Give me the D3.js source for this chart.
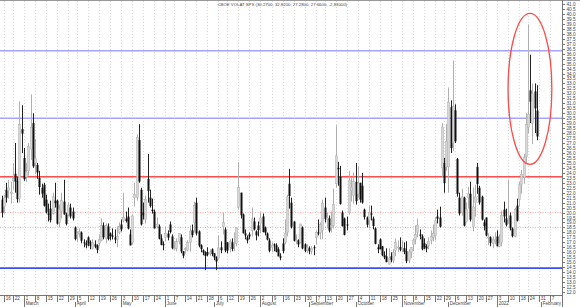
<!DOCTYPE html>
<html>
<head>
<meta charset="utf-8">
<script src="https://cdn.jsdelivr.net/npm/d3@7/dist/d3.min.js"></script>
<style>
  body { margin: 0; background: #fff; }
  svg text { font-family: "Liberation Sans", Arial, sans-serif; fill: #444; }
  .axis path, .axis line { stroke: #777; shape-rendering: crispEdges; }
</style>
</head>
<body>
<script>
// trading calendar (weekdays minus exchange holidays)
var firstDay = "2021-02-12", lastDay = "2022-02-11";
var holidays = ["2021-02-15", "2021-04-02", "2021-05-31", "2021-07-05", "2021-09-06",
                "2021-11-25", "2021-12-24", "2022-01-17"];

var title = "CBOE VOLAT SPX (30.2700, 32.8200, 27.2800, 27.6600, -2.83000)";
var monthNames = ["January", "February", "March", "April", "May", "June", "July",
                  "August", "September", "October", "November", "December"];

// daily OHLC, Feb 12 2021 .. Jan 28 2022
var openV = [
  21.3, 20.6, 22.3, 22.2, 21.9, 23.2, 23.9, 23.2, 21.4, 28.4,
  25.5, 23.6, 24.2, 26.4, 29.0, 25.0, 24.8, 23.5, 22.5, 22.8, 21.3, 19.9, 20.4, 19.9, 21.2, 21.2, 19.0, 20.1, 21.1, 19.8, 19.8, 20.5, 20.1,
  18.5, 17.8, 17.9, 18.0, 17.0, 16.9, 17.5, 17.0, 16.4, 16.8, 16.7, 16.9, 17.2, 18.7, 17.4, 18.6, 17.9, 17.7, 17.5, 17.3, 18.0,
  18.8, 19.2, 19.4, 19.6, 17.8, 17.0, 21.5, 21.5, 27.3, 22.3, 20.0, 19.3, 23.4, 21.5, 20.3, 20.1, 18.6, 18.6, 17.4, 16.8,
  17.5, 17.9, 18.8, 17.6, 16.4, 16.4, 17.1, 17.5, 16.1, 16.3, 16.2, 17.0, 18.2, 19.0, 21.0, 18.1, 16.7, 16.2, 16.0, 16.0, 15.9, 16.3,
  15.9, 15.5, 15.4, 16.5, 18.6, 18.3, 17.0, 16.5, 17.0, 17.0, 16.9, 20.5, 22.0, 19.8, 17.9, 17.5, 17.8, 18.2, 19.1, 18.1, 18.7,
  18.9, 19.6, 18.5, 17.9, 17.2, 16.5, 16.8, 16.7, 16.3, 15.6, 16.9, 17.0, 18.0, 22.9, 21.0, 19.1, 17.1, 17.2, 17.0, 18.5, 16.8, 16.2,
  16.4, 16.1, 16.5, 17.5, 18.0, 18.0, 18.2, 20.5, 19.3, 19.4, 18.5, 18.7, 22.9, 24.5, 23.6, 20.0, 19.4, 18.8, 20.0, 22.2, 21.7,
  23.1, 21.9, 23.0, 22.7, 20.3, 19.5, 19.3, 19.9, 19.4, 18.4, 16.5, 17.3, 16.6, 15.7, 15.6, 14.8, 15.6, 15.2, 16.2, 16.5, 16.5,
  16.4, 16.4, 16.1, 15.2, 16.0, 16.8, 17.3, 18.0, 17.8, 17.6, 16.9, 16.6, 16.7, 17.2, 17.5, 17.7, 19.6, 19.5, 24.5, 25.0, 24.6,
  24.6, 30.6, 27.0, 30.3, 25.4, 21.5, 20.0, 21.5, 19.1, 21.5, 21.9, 18.6, 21.0, 24.6, 22.5, 21.6, 19.0, 19.5, 17.5, 17.5, 16.9, 17.1,
  17.6, 16.6, 17.0, 20.3, 19.4, 19.4, 19.7, 18.4, 17.6, 20.7, 21.3, 22.8, 23.5, 25.6, 28.6, 32.3, 29.0, 32.2, 30.27
];
var highV = [
  21.7, 21.8, 23.0, 23.3, 23.1, 25.0, 27.0, 23.6, 31.2, 30.8,
  26.5, 25.0, 27.0, 31.9, 30.0, 27.4, 25.0, 24.2, 22.9, 23.0, 21.8, 20.9, 21.2, 22.0, 23.0, 21.3, 20.8, 22.0, 23.3, 20.0, 21.0, 20.9, 20.5,
  18.6, 18.1, 18.4, 18.1, 17.3, 17.2, 17.6, 17.2, 17.3, 17.2, 16.8, 17.8, 19.4, 19.0, 18.9, 18.9, 18.0, 18.4, 18.3, 18.6, 19.0,
  19.3, 22.0, 20.1, 20.5, 18.3, 19.8, 23.0, 27.9, 28.9, 22.5, 21.0, 21.7, 25.9, 22.3, 21.4, 20.3, 19.5, 18.8, 17.8, 17.1,
  18.6, 18.2, 19.1, 17.8, 17.1, 17.4, 17.9, 17.8, 16.1, 16.5, 17.2, 18.7, 18.8, 21.1, 21.5, 18.2, 16.8, 16.3, 16.1, 16.5, 16.3, 16.4,
  15.9, 15.6, 17.7, 17.1, 20.0, 18.5, 17.0, 17.3, 17.4, 18.0, 18.5, 25.1, 22.0, 19.9, 18.3, 17.7, 18.0, 20.5, 19.5, 18.2, 19.1,
  20.0, 19.9, 18.6, 18.0, 17.4, 17.0, 16.9, 16.9, 16.5, 15.9, 17.4, 19.3, 21.8, 24.4, 21.5, 19.1, 17.8, 17.3, 18.9, 18.6, 16.9, 16.8,
  16.6, 16.6, 16.7, 18.2, 19.3, 19.0, 21.3, 21.5, 20.0, 19.7, 20.1, 22.4, 28.8, 25.1, 24.7, 20.2, 19.5, 19.6, 24.2, 23.5, 24.0,
  25.0, 24.6, 23.0, 24.0, 20.4, 19.6, 20.7, 20.7, 19.6, 18.5, 16.8, 17.4, 16.6, 16.1, 16.4, 16.4, 16.0, 16.3, 17.4, 17.2, 17.5,
  17.2, 17.0, 17.1, 16.3, 16.5, 17.4, 18.7, 19.4, 18.3, 17.8, 17.4, 16.8, 17.5, 18.2, 18.8, 19.5, 20.3, 20.6, 29.0, 25.5, 28.9,
  32.6, 31.3, 35.3, 30.9, 25.5, 22.0, 22.4, 21.6, 21.0, 22.6, 23.1, 22.5, 22.8, 25.0, 22.7, 21.7, 19.3, 19.5, 17.9, 17.6, 17.6, 18.0,
  18.2, 17.8, 20.2, 21.1, 20.4, 23.3, 20.0, 18.5, 20.5, 21.4, 23.1, 24.3, 25.9, 30.0, 38.94, 35.9, 33.0, 33.0, 32.82
];
var lowV = [
  19.5, 19.9, 21.0, 21.4, 20.9, 22.3, 22.0, 21.0, 21.0, 26.0,
  23.2, 23.1, 23.7, 25.3, 24.5, 23.9, 23.4, 21.8, 21.5, 20.6, 19.9, 19.1, 19.0, 19.8, 20.5, 18.8, 18.5, 19.4, 19.8, 18.7, 19.6, 19.4, 19.2,
  17.2, 17.0, 17.5, 16.9, 16.5, 16.4, 16.6, 16.3, 16.3, 16.4, 15.9, 16.6, 17.1, 17.3, 16.9, 17.2, 17.2, 17.3, 16.9, 16.5, 17.8,
  18.1, 19.0, 19.0, 18.3, 16.7, 16.8, 20.6, 21.2, 23.0, 18.7, 19.3, 18.9, 21.0, 20.5, 19.9, 18.4, 18.4, 17.3, 16.7, 16.2,
  17.1, 17.2, 17.9, 16.3, 16.2, 16.1, 16.8, 15.9, 15.4, 15.9, 16.1, 16.1, 17.5, 18.0, 17.7, 16.5, 16.0, 15.7, 14.2, 15.6, 15.6, 15.6,
  15.2, 14.2, 15.4, 15.9, 17.8, 16.0, 15.9, 16.0, 16.1, 16.1, 16.6, 20.3, 19.4, 17.9, 17.3, 16.9, 17.3, 17.6, 18.2, 17.2, 17.6,
  17.9, 18.0, 17.7, 17.2, 16.0, 16.0, 16.1, 16.0, 15.6, 15.2, 15.9, 16.8, 17.6, 20.4, 18.4, 17.1, 16.8, 16.5, 16.9, 16.3, 16.0, 15.9,
  15.8, 15.8, 15.7, 16.8, 17.7, 17.3, 17.3, 19.0, 18.4, 18.0, 18.0, 18.4, 22.5, 22.7, 20.8, 18.6, 17.7, 18.2, 19.8, 21.1, 20.9,
  20.8, 21.5, 21.0, 20.9, 19.3, 18.5, 18.4, 19.2, 18.3, 16.8, 15.9, 16.3, 15.6, 15.3, 15.0, 14.8, 15.0, 14.9, 15.6, 16.0, 16.1,
  16.0, 15.8, 14.9, 14.9, 15.4, 16.1, 16.8, 17.5, 17.3, 16.2, 16.3, 16.0, 16.3, 16.8, 17.1, 17.2, 18.9, 18.5, 23.6, 22.0, 24.2,
  22.0, 26.0, 26.2, 27.0, 21.6, 19.7, 19.7, 18.6, 19.0, 20.4, 19.1, 18.1, 19.6, 21.9, 20.8, 19.2, 18.2, 17.6, 16.7, 16.6, 16.4, 16.8,
  16.6, 16.5, 16.6, 19.0, 18.6, 18.9, 18.2, 17.5, 17.5, 19.1, 20.6, 21.9, 22.9, 25.0, 28.0, 29.0, 26.9, 28.0, 27.28
];
var closeV = [
  19.97, 21.46, 21.50, 22.49, 22.05, 23.45, 23.11, 21.34, 28.89, 27.95,
  23.35, 24.10, 26.67, 28.57, 24.66, 25.47, 24.03, 22.56, 21.91, 20.69, 20.03, 19.79, 19.23, 21.58, 20.95, 18.88, 20.30, 21.20, 19.81, 18.86, 20.74, 19.61, 19.40,
  17.33, 17.91, 18.12, 17.16, 16.95, 16.69, 16.91, 16.65, 16.99, 16.57, 16.25, 17.29, 18.68, 17.50, 18.71, 17.33, 17.64, 17.56, 17.28, 17.61, 18.61,
  18.31, 19.48, 19.15, 18.39, 16.69, 19.66, 21.84, 27.59, 23.13, 18.81, 19.72, 21.34, 22.18, 20.67, 20.15, 18.40, 18.84, 17.36, 16.74, 16.76,
  17.90, 17.48, 18.04, 16.42, 16.42, 17.07, 17.89, 16.10, 15.65, 16.39, 17.02, 18.15, 17.75, 20.70, 17.89, 16.66, 16.32, 15.97, 15.62, 15.76, 16.02, 15.83,
  15.48, 15.07, 16.44, 16.20, 19.00, 16.18, 16.17, 17.12, 16.33, 17.01, 18.45, 22.50, 19.73, 17.91, 17.69, 17.20, 17.58, 19.36, 18.31, 17.70, 18.24,
  19.46, 18.04, 17.97, 17.28, 16.15, 16.72, 16.79, 16.06, 15.59, 15.45, 16.12, 17.91, 21.57, 21.67, 18.56, 17.15, 17.22, 16.79, 18.84, 16.39, 16.15, 16.48,
  16.11, 16.41, 16.41, 18.00, 17.96, 18.80, 20.95, 19.37, 19.46, 18.18, 18.69, 20.81, 25.71, 24.36, 20.87, 18.63, 17.75, 18.76, 23.25, 22.56, 23.14,
  21.15, 22.96, 21.30, 21.00, 19.54, 18.77, 20.00, 19.85, 18.64, 16.86, 16.30, 16.30, 15.70, 15.49, 15.01, 15.43, 15.24, 15.98, 16.98, 16.53, 16.26,
  16.41, 16.03, 15.10, 16.04, 16.48, 17.22, 17.78, 18.73, 17.66, 16.29, 16.49, 16.37, 17.11, 17.59, 17.91, 19.17, 19.38, 18.58, 28.62, 22.96, 27.19,
  31.12, 26.50, 30.67, 27.18, 21.89, 19.90, 21.58, 18.69, 20.31, 21.89, 19.29, 20.57, 21.57, 22.87, 21.01, 19.29, 18.63, 17.68, 17.54, 16.95, 17.33, 17.22,
  16.60, 16.91, 19.73, 19.61, 18.76, 19.40, 18.41, 17.62, 20.31, 19.19, 22.79, 23.85, 25.59, 28.85, 29.90, 31.16, 31.96, 30.49, 27.66
];

// horizontal reference lines drawn on the chart
var blueLevels = [36.3, 29.5];
var redLevel = 23.6;
var dottedLevels = [20.0, 18.5];
var supportLevel = 14.4;

var W = 580, H = 307;
var plotRight = 562, plotBottom = 295.5;

var parse = d3.timeParse("%Y-%m-%d"), fmt = d3.timeFormat("%Y-%m-%d");
var days = d3.timeDay.range(parse(firstDay), d3.timeDay.offset(parse(lastDay), 1))
    .filter(function(d) {
        var w = d.getDay();
        return w !== 0 && w !== 6 && holidays.indexOf(fmt(d)) < 0;
    });

var candles = closeV.map(function(c, i) {
    return {i: i, date: days[i], open: openV[i], high: highV[i], low: lowV[i], close: c};
});

var x = d3.scaleLinear().domain([-0.81, 253.4]).range([0, plotRight]);
var y = d3.scaleLinear().domain([41, 12]).range([4, 292]);

var svg = d3.select("body").append("svg")
    .attr("width", W)
    .attr("height", H);

svg.append("rect").attr("width", W).attr("height", H).attr("fill", "#fff");

// week starts and month starts
var weekIdx = [], monthIdx = [];
days.forEach(function(d, i) {
    if (i === 0) return;
    var prev = days[i - 1];
    if (d3.timeMonday.floor(d) - d3.timeMonday.floor(prev) !== 0 && x(i) < 556) weekIdx.push(i);
    if (d.getMonth() !== prev.getMonth() && x(i) < 556) monthIdx.push(i);
});

// top border
svg.append("line")
    .attr("x1", 0).attr("x2", W).attr("y1", 0.5).attr("y2", 0.5)
    .attr("stroke", "#999");

// dotted weekly grid
svg.append("g").selectAll("line")
    .data(weekIdx)
    .enter().append("line")
        .attr("x1", function(i) { return Math.round(x(i)) + 0.5; })
        .attr("x2", function(i) { return Math.round(x(i)) + 0.5; })
        .attr("y1", 1)
        .attr("y2", plotBottom)
        .attr("stroke", "#dadada")
        .attr("stroke-dasharray", "1,2");

// reference levels
function hline(v, color, width, dash) {
    svg.append("line")
        .attr("x1", 0).attr("x2", plotRight)
        .attr("y1", y(v)).attr("y2", y(v))
        .attr("stroke", color)
        .attr("stroke-width", width)
        .attr("stroke-dasharray", dash || null);
}
blueLevels.forEach(function(v) { hline(v, "#a4a4ff", 1.4); });
dottedLevels.forEach(function(v) { hline(v, "#ffa4a4", 1, "1,1.5"); });
hline(redLevel, "#ff4d4d", 1.4);
hline(supportLevel, "#3a4dff", 1.6);

// candles
var candleG = svg.append("g");
candles.forEach(function(d) {
    var cx = Math.round(x(d.i));
    var up = d.close >= d.open;
    candleG.append("line")
        .attr("x1", cx + 0.5).attr("x2", cx + 0.5)
        .attr("y1", y(d.high)).attr("y2", y(d.low))
        .attr("stroke", up ? "#b0b0b0" : "#222")
        .attr("stroke-width", 1);
    var top = y(Math.max(d.open, d.close)), bot = y(Math.min(d.open, d.close));
    candleG.append("rect")
        .attr("x", cx - 0.5)
        .attr("y", top)
        .attr("width", 2)
        .attr("height", Math.max(1, bot - top))
        .attr("fill", up ? "#d6d6d6" : "#111")
        .attr("stroke", up ? "#adadad" : "none")
        .attr("stroke-width", 0.5);
});

// red ellipse around the late-January spike
var ellipseDays = [238.9, 248.8];
var ellipseVals = [40.05, 24.85];
svg.append("ellipse")
    .attr("cx", x(ellipseDays[0]))
    .attr("cy", (y(ellipseVals[0]) + y(ellipseVals[1])) / 2)
    .attr("rx", x(ellipseDays[1]) - x(ellipseDays[0]))
    .attr("ry", (y(ellipseVals[1]) - y(ellipseVals[0])) / 2)
    .attr("fill", "none")
    .attr("stroke", "#ff4a4a")
    .attr("stroke-width", 1.3);

// right value axis
var yTicks = d3.range(12, 41.001, 0.5);
var yAxis = svg.append("g")
    .attr("class", "axis")
    .attr("transform", "translate(" + (plotRight + 0.5) + ",0)")
    .call(d3.axisRight(y).tickValues(yTicks).tickSize(2.5).tickPadding(1.5)
        .tickFormat(d3.format(".1f")));
yAxis.select(".domain").attr("d", "M0,0V" + H);
yAxis.selectAll("text").style("font-size", "4.7px").attr("fill", "#444");

// week-start day axis
var dayAxis = svg.append("g")
    .attr("class", "axis")
    .attr("transform", "translate(0," + plotBottom + ")")
    .call(d3.axisBottom(x).tickValues(weekIdx).tickSize(6).tickSizeOuter(0)
        .tickFormat(function(i) { return days[i].getDate(); }));
dayAxis.select(".domain").attr("d", "M0,0H" + plotRight);
dayAxis.selectAll(".tick").attr("transform", function(i) { return "translate(" + (Math.round(x(i)) + 0.5) + ",0)"; });
dayAxis.selectAll("text")
    .attr("text-anchor", "start")
    .attr("x", 1.2)
    .attr("y", 1.2)
    .style("font-size", "4.6px")
    .attr("fill", "#444");

// month axis
var monthAxis = svg.append("g")
    .attr("class", "axis")
    .attr("transform", "translate(0," + (plotBottom + 6) + ")")
    .call(d3.axisBottom(x).tickValues(monthIdx).tickSize(5).tickSizeOuter(0)
        .tickFormat(function(i) {
            var d = days[i];
            return d.getMonth() === 0 ? d.getFullYear() : monthNames[d.getMonth()];
        }));
monthAxis.select(".domain").remove();
monthAxis.selectAll(".tick").attr("transform", function(i) { return "translate(" + (Math.round(x(i)) + 0.5) + ",0)"; });
monthAxis.selectAll("text")
    .attr("text-anchor", "start")
    .attr("x", 1.2)
    .attr("y", 0.5)
    .style("font-size", "4.6px")
    .attr("fill", "#444");

// title
svg.append("text")
    .attr("x", 217.5)
    .attr("y", 6)
    .style("font-size", "4.3px")
    .attr("fill", "#444")
    .text(title);
</script>
</body>
</html>
